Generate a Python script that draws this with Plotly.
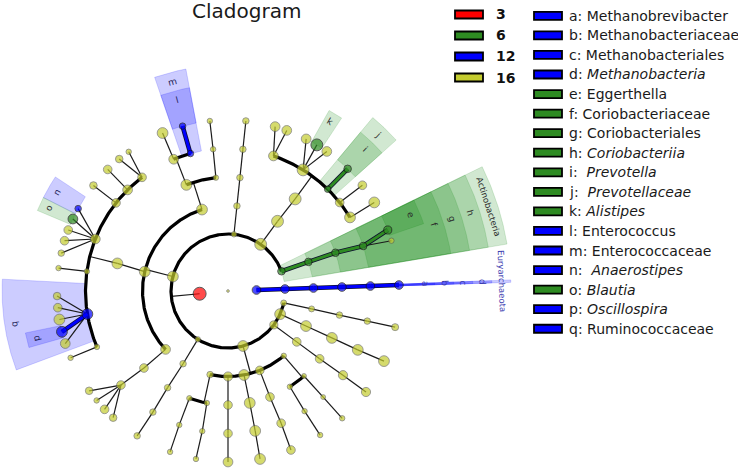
import math
import plotly.graph_objects as go

# ---------------- data ----------------
group_labels = ["3", "6", "12", "16"]
group_colors = ["#ff0000", "#2e8b22", "#0000ff", "#c4cc2f"]
group_fills = ["rgba(255,0,0,0.2)", "rgba(0,128,0,0.18)", "rgba(0,0,255,0.2)", "rgba(0,0,0,0)"]

node_id = [
    "root", "Bacteria", "Archaea",
    "Euryarchaeota", "Methanobacteria", "Methanobacteriales", "Methanobacteriaceae", "Methanobrevibacter",
    "Actinobacteria", "Coriobacteriia", "Coriobacteriales", "Coriobacteriaceae", "Eggerthella", "Coriobacteriaceae_g2",
    "Bacteroidetes", "Bacteroidia", "Bacteroidales",
    "Bacteroidales_f1", "Bacteroidales_f1_g1", "Bacteroidales_f1_g2",
    "Rikenellaceae", "Rikenellaceae_g1", "Alistipes", "Rikenellaceae_g3",
    "Prevotellaceae", "Prevotella",
    "Bacteroidales_f4", "Bacteroidales_f4_g1",
    "Bacteroidales_f5", "Bacteroidales_f5_g1",
    "p84", "p84_c", "p84_o", "p84_f", "p84_g",
    "Firmicutes", "Bacilli", "Lactobacillales", "Lactobacillales_f1", "Lactobacillales_f1_g1",
    "Enterococcaceae", "Enterococcus",
    "Bacilli_o2", "Bacilli_o2_f", "Bacilli_o2_g",
    "Clostridia", "Clostridiales",
    "Clostridiales_f1", "Clostridiales_f1_g1", "Clostridiales_f1_g2",
    "Clostridiales_f2", "Clostridiales_f2_g1",
    "Clostridiales_f3", "Clostridiales_f3_g1",
    "Lachnospiraceae", "Anaerostipes", "Blautia", "Lachnospiraceae_g3", "Lachnospiraceae_g4", "Lachnospiraceae_g5",
    "Clostridiales_f5", "Clostridiales_f5_g1",
    "Ruminococcaceae", "Ruminococcaceae_g1", "Ruminococcaceae_g2", "Ruminococcaceae_g3", "Oscillospira", "Ruminococcaceae_g5",
    "Clostridiales_f7", "Clostridiales_f7_g1",
    "Firmicutes_c3", "Firmicutes_c3_o", "Firmicutes_c3_f", "Firmicutes_c3_g1", "Firmicutes_c3_g2", "Firmicutes_c3_g3", "Firmicutes_c3_g4",
    "p238", "p238_c", "p238_o", "p238_f", "p238_g",
    "Proteobacteria",
    "Proteo_c1", "Proteo_c1_o1", "Proteo_c1_o1_f", "Proteo_c1_o1_g", "Proteo_c1_o2", "Proteo_c1_o2_f", "Proteo_c1_o2_g",
    "Proteo_c2", "Proteo_c2_o", "Proteo_c2_f", "Proteo_c2_g",
    "Proteo_c3", "Proteo_c3_o", "Proteo_c3_f", "Proteo_c3_g",
    "Proteo_c4", "Proteo_c4_o", "Proteo_c4_f", "Proteo_c4_g",
    "Proteo_c5", "Proteo_c5_o1", "Proteo_c5_o1_f", "Proteo_c5_o1_g", "Proteo_c5_o2", "Proteo_c5_o2_f", "Proteo_c5_o2_g",
    "p324", "p324_c", "p324_o", "p324_f", "p324_g",
    "p336", "p336_c", "p336_o", "p336_f", "p336_g",
    "p348", "p348_c", "p348_o", "p348_f", "p348_g",
]

node_parent = [
    "", "root", "root",
    "Archaea", "Euryarchaeota", "Methanobacteria", "Methanobacteriales", "Methanobacteriaceae",
    "Bacteria", "Actinobacteria", "Coriobacteriia", "Coriobacteriales", "Coriobacteriaceae", "Coriobacteriaceae",
    "Bacteria", "Bacteroidetes", "Bacteroidia",
    "Bacteroidales", "Bacteroidales_f1", "Bacteroidales_f1",
    "Bacteroidales", "Rikenellaceae", "Rikenellaceae", "Rikenellaceae",
    "Bacteroidales", "Prevotellaceae",
    "Bacteroidales", "Bacteroidales_f4",
    "Bacteroidales", "Bacteroidales_f5",
    "Bacteria", "p84", "p84_c", "p84_o", "p84_f",
    "Bacteria", "Firmicutes", "Bacilli", "Lactobacillales", "Lactobacillales_f1",
    "Lactobacillales", "Enterococcaceae",
    "Bacilli", "Bacilli_o2", "Bacilli_o2_f",
    "Firmicutes", "Clostridia",
    "Clostridiales", "Clostridiales_f1", "Clostridiales_f1",
    "Clostridiales", "Clostridiales_f2",
    "Clostridiales", "Clostridiales_f3",
    "Clostridiales", "Lachnospiraceae", "Lachnospiraceae", "Lachnospiraceae", "Lachnospiraceae", "Lachnospiraceae",
    "Clostridiales", "Clostridiales_f5",
    "Clostridiales", "Ruminococcaceae", "Ruminococcaceae", "Ruminococcaceae", "Ruminococcaceae", "Ruminococcaceae",
    "Clostridiales", "Clostridiales_f7",
    "Firmicutes", "Firmicutes_c3", "Firmicutes_c3_o", "Firmicutes_c3_f", "Firmicutes_c3_f", "Firmicutes_c3_f", "Firmicutes_c3_f",
    "Bacteria", "p238", "p238_c", "p238_o", "p238_f",
    "Bacteria",
    "Proteobacteria", "Proteo_c1", "Proteo_c1_o1", "Proteo_c1_o1_f", "Proteo_c1", "Proteo_c1_o2", "Proteo_c1_o2_f",
    "Proteobacteria", "Proteo_c2", "Proteo_c2_o", "Proteo_c2_f",
    "Proteobacteria", "Proteo_c3", "Proteo_c3_o", "Proteo_c3_f",
    "Proteobacteria", "Proteo_c4", "Proteo_c4_o", "Proteo_c4_f",
    "Proteobacteria", "Proteo_c5", "Proteo_c5_o1", "Proteo_c5_o1_f", "Proteo_c5", "Proteo_c5_o2", "Proteo_c5_o2_f",
    "Bacteria", "p324", "p324_c", "p324_o", "p324_f",
    "Bacteria", "p336", "p336_c", "p336_o", "p336_f",
    "Bacteria", "p348", "p348_c", "p348_o", "p348_f",
]

# angular position (degrees) of every clade in the cladogram
node_angle = [
    0, 185.5, 2.0,
    2.0, 2.0, 2.0, 2.0, 2.0,
    20.3, 19.9, 19.6, 18.4, 20.9, 17.1,
    55.0, 54.6, 53.9,
    71.4, 74.0, 69.9,
    58.2, 62.8, 58.7, 54.7,
    45.6, 45.6,
    38.4, 38.2,
    31.1, 31.2,
    84.0, 84.0, 84.0, 84.0, 84.0,
    165.3, 107.7, 111.4, 112.4, 112.5,
    105.3, 105.4,
    96.1, 96.0, 96.1,
    166.9, 166.0,
    127.1, 129.5, 125.5,
    134.8, 134.7,
    141.8, 141.9,
    158.6, 151.2, 155.1, 159.1, 162.9, 167.2,
    172.1, 172.3,
    189.3, 181.7, 185.6, 189.6, 193.8, 197.9,
    203.1, 203.0,
    223.1, 222.5, 221.3, 215.7, 219.8, 223.8, 227.8,
    238.0, 238.3, 238.0, 238.2, 237.9,
    285.3,
    257.9, 259.3, 259.6, 259.2, 250.2, 250.0, 250.2,
    270.0, 270.0, 270.0, 270.0,
    280.8, 281.0, 281.0, 280.8,
    291.8, 291.6, 291.9, 291.6,
    310.7, 311.8, 311.9, 311.9, 302.9, 302.5, 302.6,
    323.5, 323.5, 323.5, 323.8, 323.8,
    336.1, 335.8, 335.7, 335.6, 335.8,
    347.9, 347.9, 347.8, 347.8, 347.8,
]

# relative (log) abundance of each clade -> node size
node_abundance = [
    2.5, 12, 8,
    8, 8, 8, 8, 8,
    7, 7, 7, 7, 7.5, 5,
    11, 11, 11,
    9, 9, 9,
    11, 9, 11, 9,
    6, 7,
    8, 8,
    10, 10,
    5, 6, 6, 6, 6,
    10, 10, 10, 9, 10,
    6, 6,
    5, 5, 5,
    10, 10,
    8, 7, 5,
    9, 8,
    8, 7,
    9, 6, 9, 8, 8, 6,
    5, 5,
    10, 7, 8, 10, 10, 9,
    5, 5,
    9, 8, 8, 7, 5, 8, 7,
    5, 6, 6, 6, 6,
    10,
    6, 5, 5, 5, 5, 5, 5,
    8.5, 8, 8, 9,
    10, 10, 10, 10,
    8, 8, 8, 8,
    5, 4.5, 4.5, 5, 5, 5, 5,
    7.5, 8, 8, 8.5, 8.5,
    10, 10, 10, 10, 10,
    5.5, 5.5, 6, 6, 6.5,
]

# clades enriched in a group (all others belong to group "16")
enriched_nodes = ["Bacteria", "Archaea", "Euryarchaeota", "Methanobacteria", "Methanobacteriales",
                  "Methanobacteriaceae", "Methanobrevibacter", "Actinobacteria", "Coriobacteriia",
                  "Coriobacteriales", "Coriobacteriaceae", "Eggerthella", "Alistipes", "Prevotellaceae",
                  "Prevotella", "Enterococcaceae", "Enterococcus", "Anaerostipes", "Blautia",
                  "Ruminococcaceae", "Oscillospira"]
enriched_groups = ["3", "12", "12", "12", "12",
                   "12", "12", "6", "6",
                   "6", "6", "6", "6", "6",
                   "6", "12", "12", "12", "6",
                   "12", "12"]

clade_letters = ["a", "b", "c", "d", "e", "f", "g", "h", "i", "j", "k", "l", "m", "n", "o", "p", "q"]
clade_taxa = ["Methanobrevibacter", "Methanobacteriaceae", "Methanobacteriales", "Methanobacteria",
              "Eggerthella", "Coriobacteriaceae", "Coriobacteriales", "Coriobacteriia", "Prevotella",
              "Prevotellaceae", "Alistipes", "Enterococcus", "Enterococcaceae", "Anaerostipes",
              "Blautia", "Oscillospira", "Ruminococcaceae"]
clade_legend_text = ["a: Methanobrevibacter", "b: Methanobacteriaceae", "c: Methanobacteriales",
                     "d: <i>Methanobacteria</i>", "e: Eggerthella", "f: Coriobacteriaceae",
                     "g: Coriobacteriales", "h: <i>Coriobacteriia</i>", "i:\u00a0 <i>Prevotella</i>",
                     "j:\u00a0 <i>Prevotellaceae</i>", "k: <i>Alistipes</i>", "l: Enterococcus",
                     "m: Enterococcaceae", "n:\u00a0 <i>Anaerostipes</i>", "o: <i>Blautia</i>",
                     "p: <i>Oscillospira</i>", "q: Ruminococcaceae"]
phylum_labels = ["Actinobacteria", "Euryarchaeota"]

# ---------------- layout helpers ----------------
W, H = 738, 469
PX = 28.5          # pixels per taxonomic level
CX, CY = 228, 291  # pixel position of the root
FONT = "DejaVu Sans"
SIZE_SCALE = 1.08

parent = dict(zip(node_id, node_parent))
ang = dict(zip(node_id, node_angle))
abund = dict(zip(node_id, node_abundance))
grp = {n: "16" for n in node_id}
grp.update(dict(zip(enriched_nodes, enriched_groups)))
gcol = dict(zip(group_labels, group_colors))
gfill = dict(zip(group_labels, group_fills))

children = {n: [] for n in node_id}
for n, p in zip(node_id, node_parent):
    if p:
        children[p].append(n)

level = {}
for n in node_id:
    d, q = 0, n
    while parent[q]:
        q = parent[q]
        d += 1
    level[n] = d


def P(r, a):
    t = math.radians(a)
    return r * math.cos(t), r * math.sin(t)


def arc_pts(r, a0, a1, step=0.5):
    k = max(2, int(abs(a1 - a0) / step) + 1)
    return [P(r, a0 + (a1 - a0) * i / (k - 1)) for i in range(k)]


fig = go.Figure()

# ---------------- highlighted clade sectors ----------------
leaf_angles = sorted(ang[n] for n in node_id if n != "root" and not children[n])


def leaves(n):
    if not children[n]:
        return [n]
    out = []
    for c in children[n]:
        out += leaves(c)
    return out


def under_archaea(n):
    while n:
        if n == "Archaea":
            return True
        n = parent[n]
    return False


def outer_r(lv):
    return 7.26 + (6 - lv) * 0.667


label_items = []
for taxon, lab in list(zip(clade_taxa, clade_letters)) + [(p, p) for p in phylum_labels]:
    la = [ang[x] for x in leaves(taxon)]
    lo, hi = min(la), max(la)
    if under_archaea(taxon):
        t0, t1 = lo - 0.25, hi + 0.25
    else:
        prev = max([a for a in leaf_angles if a < lo - 1e-9], default=leaf_angles[-1] - 360)
        nxt = min([a for a in leaf_angles if a > hi + 1e-9], default=leaf_angles[0] + 360)
        t0, t1 = (lo + prev) / 2, (hi + nxt) / 2
    r0, r1 = level[taxon], outer_r(level[taxon])
    pts = arc_pts(r0, t0, t1, 0.1) + arc_pts(r1, t1, t0, 0.1)
    xs = [p[0] for p in pts] + [pts[0][0]]
    ys = [p[1] for p in pts] + [pts[0][1]]
    fc = gfill[grp[taxon]]
    fig.add_trace(go.Scatter(x=xs, y=ys, mode="lines", fill="toself", fillcolor=fc,
                             line=dict(color=fc, width=0.8), hoverinfo="skip"))
    label_items.append((lab, taxon, (t0 + t1) / 2, r1 - 0.333))

# ---------------- branches ----------------
thin_x, thin_y, arc_x, arc_y = [], [], [], []
col_segs = {g: ([], []) for g in group_labels}


def add(xl, yl, pts):
    for x, y in pts:
        xl.append(x)
        yl.append(y)
    xl.append(None)
    yl.append(None)


for n in node_id:
    ch = children[n]
    if not ch or n == "root":
        continue
    L, a = level[n], ang[n]
    if len(ch) == 1 or all(not children[c] for c in ch):
        for c in ch:
            seg = [P(L, a), P(level[c], ang[c])]
            if grp[n] == grp[c] and grp[n] != "16":
                add(col_segs[grp[n]][0], col_segs[grp[n]][1], seg)
            else:
                add(thin_x, thin_y, seg)
    else:
        Lc = level[ch[0]]
        add(thin_x, thin_y, [P(L, a), P(Lc, a)])
        angs = [ang[c] for c in ch] + [a]
        add(arc_x, arc_y, arc_pts(Lc, min(angs), max(angs)))

fig.add_trace(go.Scatter(x=thin_x, y=thin_y, mode="lines",
                         line=dict(color="#1a1a1a", width=1.2), hoverinfo="skip"))
fig.add_trace(go.Scatter(x=arc_x, y=arc_y, mode="lines",
                         line=dict(color="#000000", width=3.2), hoverinfo="skip"))
for g in group_labels:
    xs, ys = col_segs[g]
    if not xs:
        continue
    fig.add_trace(go.Scatter(x=xs, y=ys, mode="lines",
                             line=dict(color="#0d0d30", width=4.6), hoverinfo="skip"))
    fig.add_trace(go.Scatter(x=xs, y=ys, mode="lines",
                             line=dict(color=gcol[g], width=3.0), hoverinfo="skip"))

# ---------------- nodes ----------------
for g in ["16", "3", "6", "12"]:
    ns = [n for n in node_id if grp[n] == g]
    xy = [P(level[n], ang[n]) for n in ns]
    fig.add_trace(go.Scatter(
        x=[p[0] for p in xy], y=[p[1] for p in xy], mode="markers",
        marker=dict(size=[abund[n] * SIZE_SCALE for n in ns], color=gcol[g],
                    line=dict(color="#555555" if g == "16" else "#141414",
                              width=0.8 if g == "16" else 1.0)),
        hoverinfo="skip"))

# ---------------- sector labels ----------------
annotations = []
for lab, taxon, tm, rl in label_items:
    x, y = P(rl, tm)
    rot = 90 - tm
    while rot > 180:
        rot -= 360
    while rot <= -180:
        rot += 360
    if under_archaea(taxon):
        color = "#3c3cb0"
    elif grp[taxon] == "12":
        color = "#24245a"
    else:
        color = "#2a2a2a"
    annotations.append(dict(x=x, y=y, xref="x", yref="y", text=lab, showarrow=False,
                            textangle=rot, font=dict(family=FONT, size=8.5 if len(lab) > 1 else 9,
                                                     color=color)))

# ---------------- legend & title ----------------
shapes = []


def px(x, y):
    return x / W, 1 - y / H


for i, (lab, col) in enumerate(zip(group_labels, group_colors)):
    yc = 14.5 + 21.0 * i
    x0, y0 = px(455, yc - 4)
    x1, y1 = px(483, yc + 4)
    shapes.append(dict(type="rect", xref="paper", yref="paper", x0=x0, x1=x1, y0=y1, y1=y0,
                       fillcolor=col, line=dict(color="#000000", width=1.8)))
    tx, ty = px(494, yc)
    annotations.append(dict(x=tx, y=ty, xref="paper", yref="paper", text="<b>%s</b>" % lab,
                            showarrow=False, xanchor="left", yanchor="middle",
                            font=dict(family=FONT, size=14, color="#111111")))

for i, (taxon, txt) in enumerate(zip(clade_taxa, clade_legend_text)):
    yc = 15.8 + 19.56 * i
    x0, y0 = px(534, yc - 4)
    x1, y1 = px(562, yc + 4)
    shapes.append(dict(type="rect", xref="paper", yref="paper", x0=x0, x1=x1, y0=y1, y1=y0,
                       fillcolor=gcol[grp[taxon]], line=dict(color="#000000", width=1.8)))
    tx, ty = px(567, yc)
    annotations.append(dict(x=tx, y=ty, xref="paper", yref="paper", text=txt,
                            showarrow=False, xanchor="left", yanchor="middle",
                            font=dict(family=FONT, size=14, color="#1a1a1a")))

tx, ty = px(246.5, 11)
annotations.append(dict(x=tx, y=ty, xref="paper", yref="paper", text="Cladogram",
                        showarrow=False, xanchor="center", yanchor="middle",
                        font=dict(family=FONT, size=20, color="#1a1a1a")))

fig.update_layout(
    width=W, height=H, autosize=False,
    margin=dict(l=0, r=0, t=0, b=0),
    paper_bgcolor="white", plot_bgcolor="white",
    showlegend=False, hovermode=False,
    xaxis=dict(range=[-CX / PX, (W - CX) / PX], visible=False, fixedrange=True),
    yaxis=dict(range=[-(H - CY) / PX, CY / PX], visible=False, fixedrange=True),
    shapes=shapes, annotations=annotations,
)

fig.write_html("out.html", config={"displayModeBar": False},
               post_script="document.body.style.margin='0px';document.body.style.overflow='hidden';")
